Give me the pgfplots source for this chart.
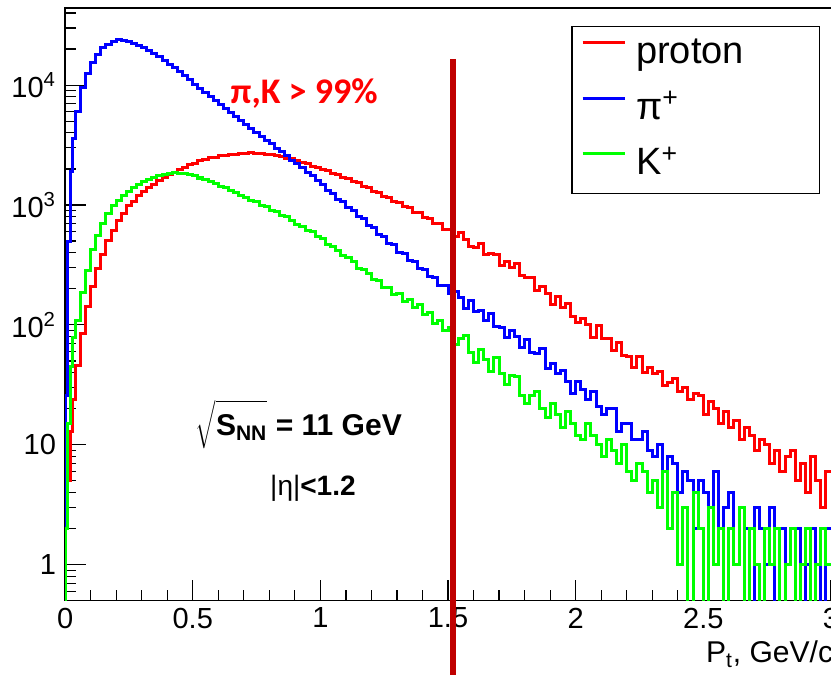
\documentclass[border=0pt]{standalone}
\usepackage{fontspec}
\setmainfont{Liberation Sans}
\newfontfamily\calibri{Carlito}
\usepackage{pgfplots}
\usepackage{pgfplotstable}
\pgfplotsset{compat=1.18}

\definecolor{rootred}{RGB}{255,0,0}
\definecolor{rootblue}{RGB}{0,0,255}
\definecolor{rootgreen}{RGB}{0,255,0}
\definecolor{cutline}{RGB}{192,0,0}

% pt spectra, counts per bin (bin left edge); 0.1 = empty bin
\pgfplotstableread{
x    p     pi     k
0.00 0.1   0.1    0.1
0.00 3     26     2
0.01 5     500    15
0.02 13    1900   45
0.03 24    3600   78
0.04 46    6000   108
0.06 84    9500   185
0.08 142   12500  285
0.10 208   15500  425
0.12 295   18000  555
0.14 385   20500  705
0.16 505   22000  845
0.18 615   23300  990
0.20 745   23900  1090
0.22 855   23700  1210
0.24 990   23200  1290
0.26 1080  22400  1400
0.28 1210  21600  1470
0.30 1290  20600  1570
0.32 1410  19600  1620
0.34 1490  18500  1710
0.36 1610  17300  1750
0.38 1690  16100  1810
0.40 1800  15000  1820
0.42 1870  14000  1860
0.44 1970  13000  1840
0.46 2060  12000  1840
0.48 2170  11100  1780
0.50 2240  10200  1750
0.52 2340  9450   1680
0.54 2390  8750   1640
0.56 2470  8100   1560
0.58 2500  7500   1520
0.60 2570  6950   1440
0.62 2590  6430   1400
0.64 2640  5960   1320
0.66 2650  5520   1280
0.68 2690  5110   1200
0.70 2690  4730   1165
0.72 2720  4380   1090
0.74 2680  4060   1060
0.76 2690  3760   990
0.78 2650  3480   965
0.80 2640  3230   905
0.82 2575  2960   884
0.84 2560  2770   815
0.86 2455  2590   795
0.88 2430  2335   748
0.90 2350  2210   690
0.92 2255  2045   668
0.94 2215  1860   612
0.96 2115  1755   598
0.98 2075  1590   548
1.00 1975  1475   528
1.02 1935  1320   470
1.04 1830  1250   455
1.06 1800  1120   420
1.08 1690  1060   378
1.10 1655  945    365
1.12 1560  900    338
1.14 1530  800    296
1.16 1425  765    292
1.18 1400  675    270
1.20 1300  650    238
1.22 1280  570    236
1.24 1180  550    205
1.26 1165  482    204
1.28 1070  465    180
1.30 1050  405    182
1.32 965   396    156
1.34 955   345    162
1.36 870   340    140
1.38 860   296    148
1.40 780   290    121
1.42 775   252    126
1.44 700   248    103
1.46 695   215    109
1.48 625   213    89
1.50 628   183    96
1.52 548   191    69
1.54 589   168    77
1.56 520   137    81
1.58 448   160    59
1.60 446   130    49
1.62 478   131    62
1.64 385   108    51
1.66 396   124    41
1.68 388   97     53
1.70 311   96     39
1.72 340   78     32
1.74 303   90     38
1.76 327   80     37
1.78 257   65     26
1.80 248   75     22
1.82 247   59     26
1.84 195   58     28
1.86 208   63     20
1.88 183   43     17
1.90 149   48     22
1.92 171   39     18
1.94 139   42     14
1.96 151   34     19
1.98 117   27     15
2.00 104   34     12
2.02 114   29     11
2.04 100   24     15
2.06 78    28     12
2.08 98    21     10
2.10 77    18     8
2.12 77    20     11
2.14 61    20     9
2.16 71    13     7
2.18 56    15     10
2.20 55    15     6
2.22 44    11     5
2.24 54    11     7
2.26 40    13     6
2.28 44    9      4
2.30 39    8      5
2.32 41    10     3
2.34 31    6      6
2.36 33    8      2
2.38 36    7      4
2.40 28    4      1
2.42 30    6      3
2.44 24    5      0.1
2.46 27    2      4
2.48 26    5      2
2.50 18    4      0.1
2.52 23    3      3
2.54 20    6      1
2.56 15    2      2
2.58 19    3      0.1
2.60 14    4      2
2.62 16    1      1
2.64 11    3      3
2.66 14    2      0.1
2.68 12    0.1    2
2.70 9     3      1
2.72 11    2      0.1
2.74 10    1      2
2.76 7     3      1
2.78 9     0.1    2
2.80 6     2      0.1
2.82 8     1      1
2.84 9     2      2
2.86 5     2      0.1
2.88 7     0.1    1
2.90 4     1      2
2.92 8     2      0.1
2.94 5     1      1
2.96 3     0.1    2
2.98 6     2      1
3.00 6     2      1
}\spectra

\begin{document}
\begin{tikzpicture}
\begin{axis}[
  name=ax,
  scale only axis,
  width=383.75pt, height=296pt,
  xmin=0, xmax=3.01,
  ymode=log, ymin=0.5, ymax=44000,
  tick pos=left, tick align=inside,
  xtick={0,0.5,1,1.5,2,2.5,3},
  xticklabels={0,0.5,1,1.5,2,2.5,3},
  minor x tick num=4,
  ytick={1,10,100,1000,10000},
  yticklabels={1,10,10\textsuperscript{2},10\textsuperscript{3},10\textsuperscript{4}},
  minor ytick={0.6,0.7,0.8,0.9,2,3,4,5,6,7,8,9,20,30,40,50,60,70,80,90,
    200,300,400,500,600,700,800,900,2000,3000,4000,5000,6000,7000,8000,9000,
    20000,30000,40000},
  tick label style={font=\fontsize{14.5}{17}\selectfont},
  y tick label style={xshift=-1pt},
  major tick length=10.5pt, minor tick length=5.5pt,
  tick style={black, line width=0.6pt},
  axis line style={line width=0.6pt},
  every axis plot/.append style={line width=1.5pt, const plot mark left},
  legend cell align=left,
  legend image code/.code={\draw[line width=1.5pt] (0pt,6pt) -- (21pt,6pt);},
  legend style={
    at={(0.659,0.9696)}, anchor=north west,
    draw=black, line width=0.6pt, fill=white,
    font=\fontsize{19}{23}\selectfont,
    inner xsep=4.5pt, inner ysep=4.5pt,
    row sep=8.75pt,
    nodes={inner sep=0pt, text height=14pt, text depth=5pt},
    /tikz/every odd column/.append style={column sep=5pt},
  },
]
  \addplot[rootred] table[x=x, y=p] {\spectra};
  \addplot[rootblue] table[x=x, y=pi] {\spectra};
  \addplot[rootgreen] table[x=x, y=k] {\spectra};
  \legend{proton\hspace*{33pt}, π\textsuperscript{+}, K\textsuperscript{+}}

  \coordinate (cuttop) at (axis cs:1.52,16500);
  \node[anchor=base west, inner sep=0pt, text=rootred,
    font=\calibri\bfseries\fontsize{18}{21}\selectfont]
    at (axis cs:0.647,7080) {π,K > 99\%};
  \node[anchor=base, inner sep=0pt, font=\bfseries\fontsize{15}{18}\selectfont]
    at (axis cs:0.916,11.9)
    {$\sqrt{\rule[-4.5pt]{0pt}{19pt}\mbox{\bfseries S\textsubscript{NN}}}$ = 11 GeV};
  \node[anchor=base, inner sep=0pt, font=\fontsize{14}{17}\selectfont]
    at (axis cs:0.971,3.76) {|η|\textbf{<1.2}};
\end{axis}
\draw[cutline, line width=2.8pt] (cuttop) -- ([yshift=-40pt]cuttop |- ax.south);
\node[anchor=base east, inner sep=0pt, font=\fontsize{15}{18}\selectfont]
  at ([yshift=-31pt]ax.south east) {P\textsubscript{t}, GeV/c};
\pgfresetboundingbox
\path ([xshift=-32.5pt,yshift=-37pt]ax.south west)
  rectangle ([xshift=-1.25pt,yshift=4pt]ax.north east);
\end{tikzpicture}
\end{document}
